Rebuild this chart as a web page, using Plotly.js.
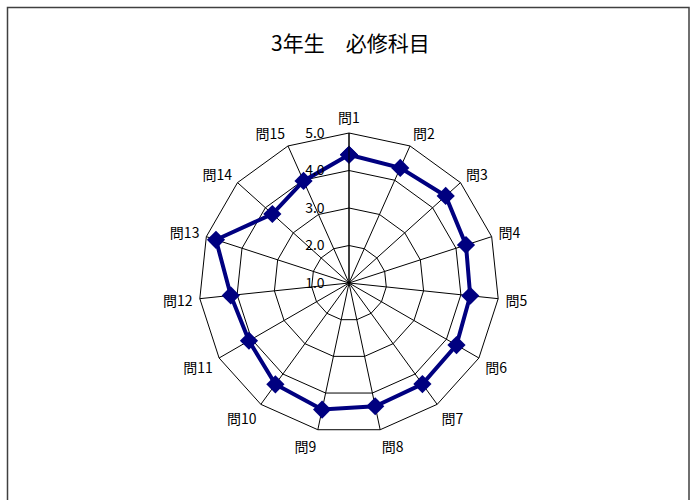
<!DOCTYPE html>
<html>
<head>
<meta charset="utf-8">
<script src="https://cdn.plot.ly/plotly-3.0.1.min.js"></script>
<style>html,body{margin:0;padding:0;background:#fff;}#chart{width:691px;height:500px;}</style>
</head>
<body>
<div id="chart"></div>
<script>
const categories = ['問1','問2','問3','問4','問5','問6','問7','問8','問9','問10','問11','問12','問13','問14','問15'];
const values = [4.42, 4.36, 4.47, 4.28, 4.25, 4.31, 4.33, 4.36, 4.45, 4.34, 4.08, 4.17, 4.73, 3.75, 3.98];
const radialTicks = [1, 2, 3, 4, 5];
const titleText = '3年生　必修科目';

const font = 'Noto Sans CJK JP, sans-serif';
const W = 691, H = 500;
const cx = 349, cy = 283, R = 150;

Plotly.newPlot('chart', [{
  type: 'scatterpolar',
  r: values.concat([values[0]]),
  theta: categories.concat([categories[0]]),
  mode: 'lines+markers',
  line: {color: '#000080', width: 4},
  marker: {symbol: 'diamond', size: 14, color: '#000080'},
  showlegend: false,
  hoverinfo: 'skip'
}], {
  width: W, height: H,
  margin: {l: 0, r: 0, t: 0, b: 0},
  paper_bgcolor: '#ffffff',
  font: {family: font, color: '#000000'},
  title: {text: titleText, font: {family: font, size: 21, color: '#000'}, x: 0.507, xanchor: 'center', y: 1 - 44/H, yanchor: 'middle'},
  polar: {
    domain: {x: [(cx - R)/W, (cx + R)/W], y: [(H - cy - R)/H, (H - cy + R)/H]},
    gridshape: 'linear',
    bgcolor: '#ffffff',
    radialaxis: {
      range: [1, 5],
      tickvals: radialTicks,
      tickformat: '.1f',
      angle: 90,
      side: 'counterclockwise',
      tickangle: 90,
      showline: true,
      linecolor: '#000',
      linewidth: 1,
      gridcolor: '#000',
      gridwidth: 1,
      ticks: 'outside',
      ticklen: 19,
      tickcolor: 'rgba(0,0,0,0)',
      tickfont: {family: font, size: 14, color: '#000'}
    },
    angularaxis: {
      direction: 'clockwise',
      rotation: 90,
      linecolor: '#000',
      linewidth: 1,
      gridcolor: '#000',
      gridwidth: 1,
      ticks: 'outside',
      ticklen: 4,
      tickcolor: 'rgba(0,0,0,0)',
      tickfont: {family: font, size: 14, color: '#000'}
    }
  },
  shapes: [{
    type: 'rect', xref: 'paper', yref: 'paper',
    x0: 7.5/W, x1: 689/W, y0: -0.1, y1: 1 - 7.5/H,
    line: {color: '#404040', width: 1.5}
  }]
}, {staticPlot: true});
</script>
</body>
</html>
